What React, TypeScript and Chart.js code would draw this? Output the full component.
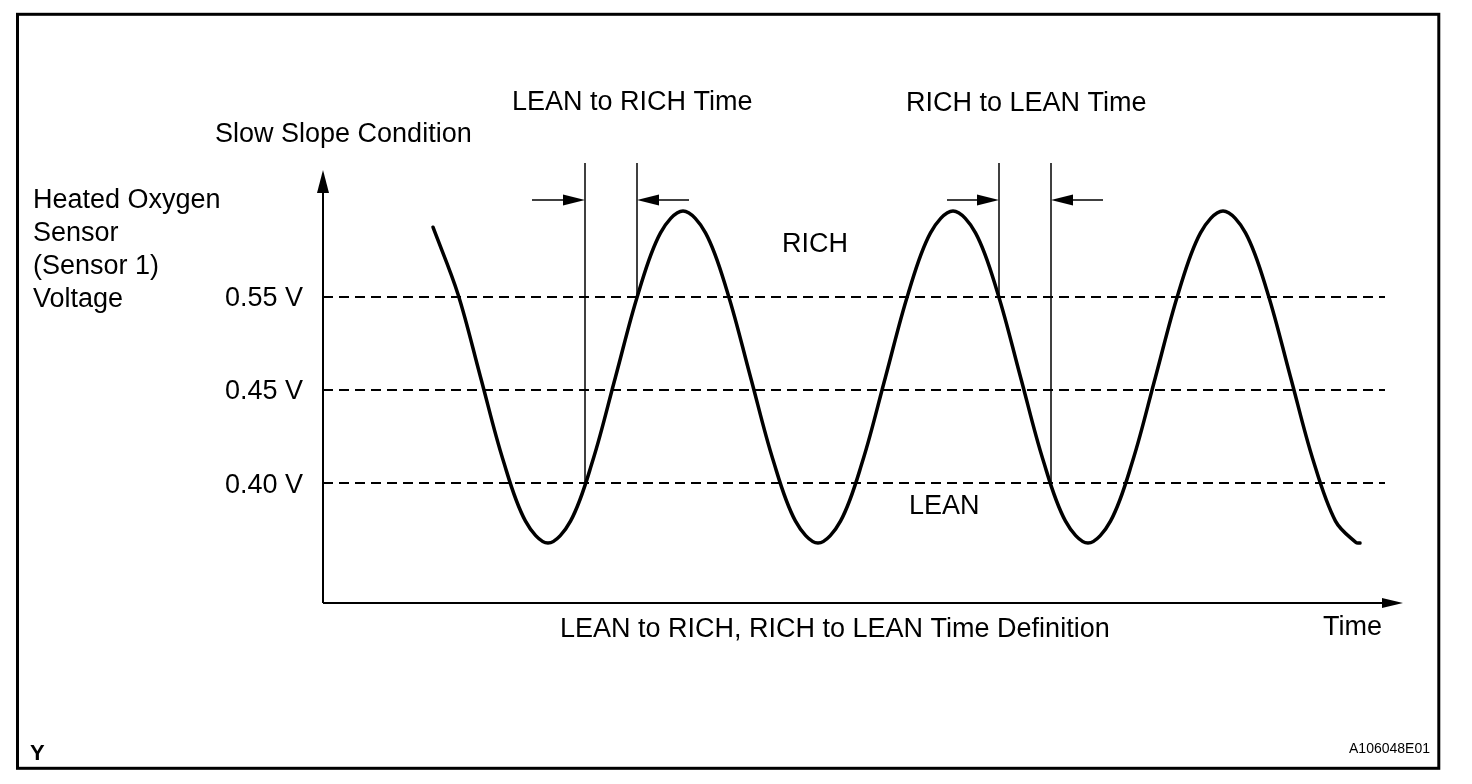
import { useEffect, useRef } from 'react';
import { Chart, registerables } from 'chart.js';

Chart.register(...registerables);

// ---- DATA ----
// Time axis in arbitrary units (0 = origin of the time axis)
const timeRange = [0, 1062];
// Diagram voltage level scale: 0 = 0.40 V, 1 = 0.45 V, 2 = 0.55 V
const levelRange = [-1.29, 3.505];

const curveTime = [
  110, 135, 157.5, 180, 202.5, 225, 247.5, 270, 292.5, 315, 337.5, 360, 382.5, 405,
  427.5, 450, 472.5, 495, 517.5, 540, 562.5, 585, 607.5, 630, 652.5, 675, 697.5, 720,
  742.5, 765, 787.5, 810, 832.5, 855, 877.5, 900, 922.5, 945, 967.5, 990, 1012.5, 1033, 1037,
];
const curveLevel = [
  2.75, 2.03, 1.14, 0.25, -0.41, -0.645, -0.41, 0.25, 1.14, 2.03, 2.69, 2.925, 2.69, 2.03,
  1.14, 0.25, -0.41, -0.645, -0.41, 0.25, 1.14, 2.03, 2.69, 2.925, 2.69, 2.03, 1.14, 0.25,
  -0.41, -0.645, -0.41, 0.25, 1.14, 2.03, 2.69, 2.925, 2.69, 2.03, 1.14, 0.25, -0.41, -0.64, -0.645,
];

const thresholdLevels = [2, 1, 0];
const thresholdLabels = ['0.55 V', '0.45 V', '0.40 V'];

// vertical marker lines bounding the LEAN->RICH and RICH->LEAN times
const markerTimes = [262, 314, 676, 728];
const markerFromLevels = [0, 2, 2, 0];
const markerTopLevel = 3.44;

// dimension arrows (tail time -> head time) at one level
const arrowTails = [209, 366, 624, 780];
const arrowHeads = [262, 314, 676, 728];
const arrowLevel = 3.043;

const yAxisTitle = ['Heated Oxygen', 'Sensor', '(Sensor 1)', 'Voltage'];

// ---- STYLE / LAYOUT ----
const FONT = '"Liberation Sans", Arial, Helvetica, sans-serif';
const W = 1472;
const H = 784;

function arrowHead(ctx: CanvasRenderingContext2D, tipX: number, tipY: number, dirX: number, dirY: number, len: number, half: number) {
  const px = -dirY;
  const py = dirX;
  ctx.beginPath();
  ctx.moveTo(tipX, tipY);
  ctx.lineTo(tipX - dirX * len + px * half, tipY - dirY * len + py * half);
  ctx.lineTo(tipX - dirX * len - px * half, tipY - dirY * len - py * half);
  ctx.closePath();
  ctx.fill();
}

const decorPlugin = {
  id: 'decor',
  afterDraw(chart: any) {
    const ctx: CanvasRenderingContext2D = chart.ctx;
    const area = chart.chartArea;
    const xs = chart.scales.x;
    const ys = chart.scales.y;
    ctx.save();
    ctx.fillStyle = '#000';
    ctx.strokeStyle = '#000';

    // frame
    ctx.lineWidth = 3;
    ctx.strokeRect(17.5, 14.3, 1421.3, 754);

    // axes
    const ox = xs.getPixelForValue(timeRange[0]);
    const oy = area.bottom;
    const yTip = area.top + 13;
    const xTip = area.right + 18;
    ctx.lineWidth = 2;
    ctx.beginPath();
    ctx.moveTo(ox, oy);
    ctx.lineTo(ox, yTip + 10);
    ctx.moveTo(ox, oy);
    ctx.lineTo(xTip - 10, oy);
    ctx.stroke();
    arrowHead(ctx, ox, yTip, 0, -1, 23, 6);
    arrowHead(ctx, xTip, oy, 1, 0, 21, 5);

    // dimension arrows
    ctx.lineWidth = 1.6;
    const ay = ys.getPixelForValue(arrowLevel);
    for (let i = 0; i < arrowTails.length; i++) {
      const tx = xs.getPixelForValue(arrowTails[i]);
      const hx = xs.getPixelForValue(arrowHeads[i]);
      const dir = hx > tx ? 1 : -1;
      ctx.beginPath();
      ctx.moveTo(tx, ay);
      ctx.lineTo(hx - dir * 10, ay);
      ctx.stroke();
      arrowHead(ctx, hx, ay, dir, 0, 22, 5.5);
    }

    // texts
    ctx.font = `27px ${FONT}`;
    ctx.textBaseline = 'alphabetic';
    ctx.textAlign = 'right';
    for (let i = 0; i < thresholdLevels.length; i++) {
      const y = ys.getPixelForValue(thresholdLevels[i]);
      ctx.fillText(thresholdLabels[i], ox - 20, y + 9.5);
    }
    ctx.textAlign = 'left';
    yAxisTitle.forEach((t, i) => ctx.fillText(t, 33, 208 + i * 33));
    ctx.fillText('Slow Slope Condition', 215, 142);
    ctx.fillText('LEAN to RICH Time', 512, 110);
    ctx.fillText('RICH to LEAN Time', 906, 111);
    ctx.fillText('RICH', 782, 252);
    ctx.fillText('LEAN', 909, 514);
    ctx.fillText('LEAN to RICH, RICH to LEAN Time Definition', 560, 637);
    ctx.textAlign = 'right';
    ctx.fillText('Time', 1382, 635);

    ctx.font = `bold 22px ${FONT}`;
    ctx.textAlign = 'left';
    ctx.fillText('Y', 30, 760);
    ctx.font = `14px ${FONT}`;
    ctx.textAlign = 'right';
    ctx.fillText('A106048E01', 1430, 753);
    ctx.restore();
  },
};

export default function App() {
  const ref = useRef<HTMLCanvasElement | null>(null);
  useEffect(() => {
    if (!ref.current) return;
    const curve = curveTime.map((t, i) => ({ x: t, y: curveLevel[i] }));
    const thresholds = thresholdLevels.map((lv) => ({
      data: [
        { x: timeRange[0], y: lv },
        { x: timeRange[1], y: lv },
      ],
      borderColor: '#000',
      borderWidth: 2,
      borderDash: [10, 6],
      pointRadius: 0,
      tension: 0,
    }));
    const markers = markerTimes.map((t, i) => ({
      data: [
        { x: t, y: markerFromLevels[i] },
        { x: t, y: markerTopLevel },
      ],
      borderColor: '#000',
      borderWidth: 1.5,
      pointRadius: 0,
      tension: 0,
    }));
    const chart = new Chart(ref.current, {
      type: 'line',
      data: {
        datasets: [
          {
            data: curve,
            borderColor: '#000',
            borderWidth: 3.5,
            pointRadius: 0,
            tension: 0.35,
            borderCapStyle: 'round',
            borderJoinStyle: 'round',
            fill: false,
          } as any,
          ...markers,
          ...thresholds,
        ],
      },
      options: {
        responsive: false,
        animation: false,
        devicePixelRatio: 1,
        events: [],
        layout: { padding: { left: 323, right: 87, top: 157, bottom: 181 } },
        scales: {
          x: { type: 'linear', min: timeRange[0], max: timeRange[1], display: false },
          y: { type: 'linear', min: levelRange[0], max: levelRange[1], display: false },
        },
        plugins: { legend: { display: false }, tooltip: { enabled: false } },
      },
      plugins: [decorPlugin],
    });
    return () => chart.destroy();
  }, []);
  return (
    <div style={{ position: 'fixed', left: 0, top: 0, width: W, height: H, background: '#fff' }}>
      <canvas ref={ref} width={W} height={H} style={{ display: 'block' }} />
    </div>
  );
}
